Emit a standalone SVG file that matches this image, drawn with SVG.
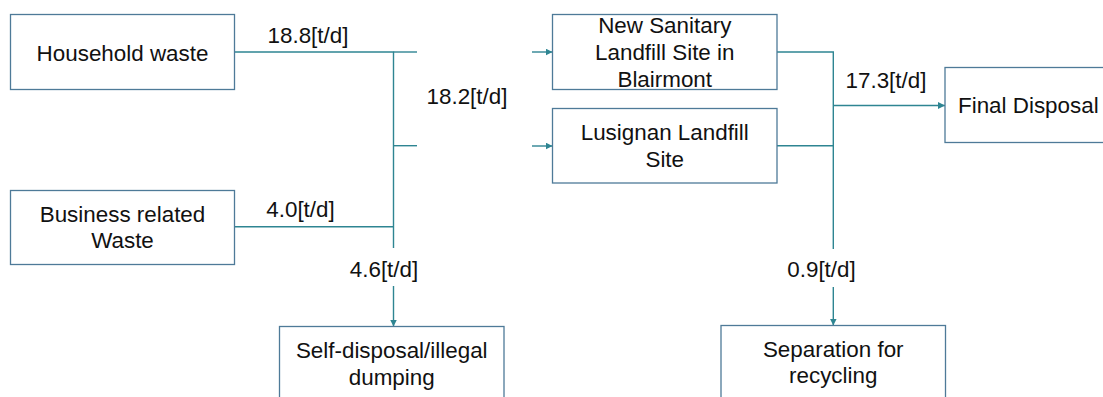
<svg xmlns="http://www.w3.org/2000/svg" width="1103" height="397" viewBox="0 0 1103 397">
<defs>
<style>
.box{fill:#fff;stroke:#4E7A98;stroke-width:1.3}
.t{font-family:"Liberation Sans",Arial,sans-serif;font-size:22.4px;fill:#111;text-anchor:middle}
.c{stroke:#2E8592;stroke-width:1.4;fill:none}
.a{marker-end:url(#arr)}
</style>
<marker id="arr" viewBox="0 0 8 8" refX="8" refY="4" markerWidth="7" markerHeight="7" markerUnits="userSpaceOnUse" orient="auto">
<path d="M0,0 L8,4 L0,8 Z" fill="#2E8592"/>
</marker>
</defs>
<rect width="1103" height="397" fill="#fff"/>
<g id="connectors">
<path class="c" d="M234.5,52 H393.5 V248"/>
<path class="c" d="M393.5,52 H417"/>
<path class="c" d="M393.5,145.7 H417"/>
<path class="c" d="M234.5,226.7 H393.5"/>
<path class="c a" d="M532,52 H552.5"/>
<path class="c a" d="M532,146 H552.5"/>
<path class="c a" d="M393.5,286 V326.5"/>
<path class="c" d="M777,52 H833.3 V249"/>
<path class="c" d="M777,145.7 H833.3"/>
<path class="c a" d="M833.3,105.5 H945"/>
<path class="c a" d="M833.3,287 V325.5"/>
<text class="t" x="308" y="42.7">18.8[t/d]</text>
<text class="t" x="467" y="104">18.2[t/d]</text>
<text class="t" x="300.5" y="216.7">4.0[t/d]</text>
<text class="t" x="384" y="277.3">4.6[t/d]</text>
<text class="t" x="886" y="88.3">17.3[t/d]</text>
<text class="t" x="821.5" y="277.3">0.9[t/d]</text>
</g>
<g id="household">
<rect class="box" x="10.5" y="14.5" width="224" height="75"/>
<text class="t" x="122.5" y="61">Household waste</text>
</g>
<g id="business">
<rect class="box" x="10.5" y="190.5" width="224" height="74"/>
<text class="t" x="122.5" y="221.7">Business related</text>
<text class="t" x="122.5" y="248.3">Waste</text>
</g>
<g id="selfdisposal">
<rect class="box" x="279.5" y="326.5" width="224.5" height="75"/>
<text class="t" x="391.75" y="358.3">Self-disposal/illegal</text>
<text class="t" x="391.75" y="385">dumping</text>
</g>
<g id="newsanitary">
<rect class="box" x="552.5" y="14.5" width="224.5" height="75"/>
<text class="t" x="664.75" y="32.5">New Sanitary</text>
<text class="t" x="664.75" y="60">Landfill Site in</text>
<text class="t" x="664.75" y="87.3">Blairmont</text>
</g>
<g id="lusignan">
<rect class="box" x="552.5" y="108.5" width="224.5" height="74.5"/>
<text class="t" x="664.75" y="140">Lusignan Landfill</text>
<text class="t" x="664.75" y="166.7">Site</text>
</g>
<g id="final">
<rect class="box" x="945" y="67.5" width="167" height="75"/>
<text class="t" x="1028.3" y="113.3">Final Disposal</text>
</g>
<g id="separation">
<rect class="box" x="721" y="325.5" width="224.5" height="75"/>
<text class="t" x="833.25" y="356.7">Separation for</text>
<text class="t" x="833.25" y="383.3">recycling</text>
</g>
</svg>
